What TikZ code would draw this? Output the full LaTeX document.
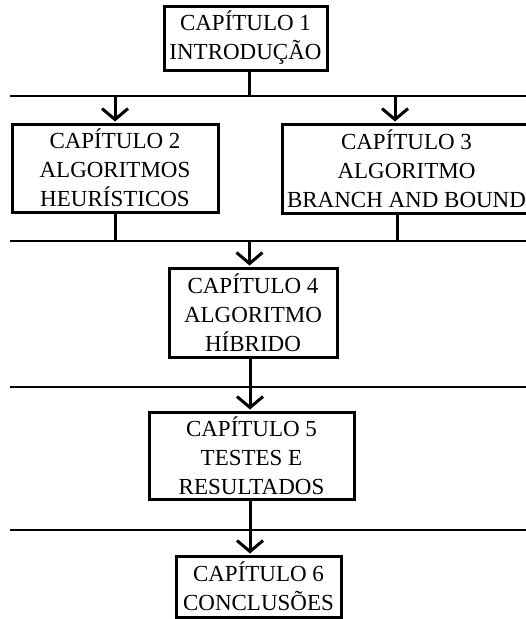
\documentclass[tikz,border=0pt]{standalone}
\usepackage{fontspec}
\setmainfont{Liberation Serif}
\usetikzlibrary{arrows.meta,calc}
\begin{document}
\begin{tikzpicture}[x=1pt,y=1pt,
  chbox/.style={draw=black, line width=3pt, fill=white, align=center, inner sep=0pt,
    font=\fontsize{23}{29}\selectfont, text=black},
  bus/.style={line width=2.6pt},
  conn/.style={line width=3pt},
  arr/.style={line width=3pt, -{Straight Barb[length=11pt,width=26pt,line width=3pt]}, shorten >=1pt}
]
\useasboundingbox (0,0) rectangle (526,-619);
\clip (0,0) rectangle (526,-619);
% boxes
\node[chbox, minimum width=163, minimum height=64] (b1) at (245.5,-38) {CAPÍTULO 1\\INTRODUÇÃO};
\node[chbox, minimum width=206, minimum height=88] (b2) at (115,-168) {CAPÍTULO 2\\ALGORITMOS\\HEURÍSTICOS};
\node[chbox, minimum width=249, minimum height=89] (b3) at (406.5,-168.5) {CAPÍTULO 3\\ALGORITMO\\BRANCH AND BOUND};
\node[chbox, minimum width=168, minimum height=89] (b4) at (253,-312.5) {CAPÍTULO 4\\ALGORITMO\\HÍBRIDO};
\node[chbox, minimum width=205, minimum height=87] (b5) at (251.5,-455.5) {CAPÍTULO 5\\TESTES E\\RESULTADOS};
\node[chbox, minimum width=165, minimum height=61] (b6) at (258.5,-586.5) {CAPÍTULO 6\\CONCLUSÕES};
% bus lines
\coordinate (h1L) at (10,-96);  \coordinate (h1R) at (530,-96);
\coordinate (h2L) at (10,-241); \coordinate (h2R) at (530,-241);
\coordinate (h3L) at (10,-387); \coordinate (h3R) at (530,-387);
\coordinate (h4L) at (10,-530); \coordinate (h4R) at (530,-530);
\coordinate (j1) at (249,-96);
\coordinate (j2) at (249.5,-241);
\coordinate (j3) at (250,-387);
\coordinate (j4) at (250,-530);
\draw[bus] (h1L) -- (h1R);
\draw[bus] (h2L) -- (h2R);
\draw[bus] (h3L) -- (h3R);
\draw[bus] (h4L) -- (h4R);
% connectors
\draw[conn] (b1.south -| j1) -- (j1);
\draw[arr] (h1L -| b2.north) -- (b2.north);
\draw[arr] (h1L -| 395,0) -- (b3.north -| 395,0);
\draw[conn] (b2.south) -- (h2L -| b2.south);
\draw[conn] (b3.south -| 397,0) -- (h2L -| 397,0);
\draw[arr] (j2) -- (b4.north -| j2);
\draw[conn] (b4.south -| j3) -- (j3);
\draw[arr] (j3) -- (b5.north -| j3);
\draw[conn] (b5.south -| j4) -- (j4);
\draw[arr] (j4) -- (b6.north -| j4);
\end{tikzpicture}
\end{document}
